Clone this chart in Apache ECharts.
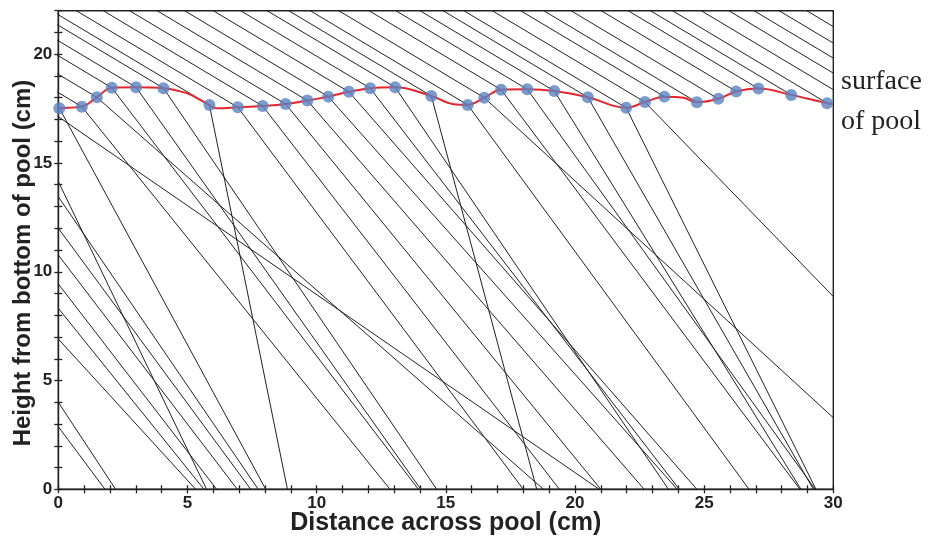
<!DOCTYPE html>
<html><head><meta charset="utf-8">
<script src="https://cdn.jsdelivr.net/npm/echarts@6/dist/echarts.min.js"></script>
<style>html,body{margin:0;padding:0;background:#fff}#c{width:930px;height:540px}</style>
</head><body><div id="c"></div>
<script>
// Surface sample points (blue dots)
const surfaceX = [0.04,0.91,1.49,2.07,3.01,4.07,5.85,6.95,7.91,8.80,9.64,10.45,11.25,12.07,13.04,14.44,15.85,16.49,17.14,18.15,19.20,20.50,21.98,22.71,23.46,24.72,25.55,26.24,27.10,28.37,29.76];
const surfaceY = [17.52,17.59,18.02,18.46,18.48,18.44,17.66,17.56,17.62,17.71,17.87,18.05,18.27,18.44,18.48,18.08,17.67,18.00,18.37,18.39,18.31,18.02,17.54,17.80,18.05,17.79,17.95,18.29,18.42,18.13,17.75];
// Red surface curve
const curveX = [0,0.04,0.91,1.49,2.07,3.01,4.07,4.97,5.49,5.85,6.13,6.95,7.91,8.80,9.64,10.45,11.25,12.07,13.04,14.44,15.3,15.85,16.49,17.14,18.15,19.20,20.50,21.98,22.71,23.46,24.2,24.72,25.55,26.24,27.10,28.37,29.76,30];
const curveY = [17.5,17.52,17.59,18.02,18.46,18.48,18.44,18.21,17.9,17.66,17.52,17.56,17.62,17.71,17.87,18.05,18.27,18.44,18.48,18.08,17.7,17.67,18.00,18.37,18.39,18.31,18.02,17.54,17.80,18.05,18.0,17.79,17.95,18.29,18.42,18.13,17.75,17.72];
// Incoming rays: common slope (cm of height lost per cm across)
const incidentSlope = 0.71;
// Incoming rays that reach the right edge above the surface: height at x = 30
const extraIncidentY = [18.37,19.13,19.82,20.51,21.27,21.98];
// Refracted rays from dots 1..24: end point
const refractEndX = [8.03,12.84,18.78,13.94,14.03,14.65,8.87,18.0,19.40,21.0,22.68,23.96,24.72,24.04,23.62,18.52,26.74,30,28.71,29.30,28.75,29.23,29.33,30];
const refractEndY = [0,0,0,0,0,0,0,0,0,0,0,0,0,0,0,0,0,3.29,0,0,0,0,0,8.86];
// Refracted rays entering from the left edge: height at x = 0 and bottom x
const leftEntryY = [17.13,14.15,13.45,12.0,10.77,9.44,8.32,6.91,4.0,2.88];
const leftBottomX = [20.94,5.74,7.74,7.45,6.93,6.13,5.64,5.32,2.22,1.81];

const INK = '#222';
const series = [];
function seg(a, b) {
  series.push({type:'line', data:[a,b], symbol:'none', silent:true, animation:false,
    lineStyle:{color:INK, width:1}, clip:true, z:2});
}
surfaceX.forEach((x,i)=>{
  const L = 40;
  seg([x - L, surfaceY[i] + L*incidentSlope], [x, surfaceY[i]]);
});
extraIncidentY.forEach(y=>{
  const L = 40;
  seg([30 - L, y + L*incidentSlope], [31, y - incidentSlope]);
});
refractEndX.forEach((x,i)=>{
  seg([surfaceX[i], surfaceY[i]], [x, refractEndY[i]]);
});
leftEntryY.forEach((y,i)=>{
  seg([0, y], [leftBottomX[i], 0]);
});
series.push({type:'line', data: curveX.map((x,i)=>[x,curveY[i]]), smooth:0.4, symbol:'none',
  lineStyle:{color:'#e8242c', width:2}, z:5, silent:true, animation:false, clip:true});
series.push({type:'scatter', data: surfaceX.map((x,i)=>[x,surfaceY[i]]), symbolSize:12,
  itemStyle:{color:'#5b82c0'}, z:6, silent:true, animation:false});

const FONT = 'Liberation Sans, Arial, sans-serif';
const axLine = {lineStyle:{color:INK, width:1.4}};
function xa(inside){
  return {type:'value', min:0, max:30, interval:1, position:'bottom',
    axisLine: inside ? {show:false} : axLine,
    axisTick:{show:true, inside:inside, length:4, lineStyle:{color:INK, width:1.3}},
    axisLabel: inside ? {show:false} : {interval:0, margin:6, color:INK, fontFamily:FONT, fontWeight:'bold', fontSize:17,
      formatter: v => (v % 5 === 0 ? String(v) : '')},
    splitLine:{show:false}};
}
function ya(inside){
  return {type:'value', min:0, max:22, interval:1, position:'left',
    axisLine: inside ? {show:false} : axLine,
    axisTick:{show:true, inside:inside, length:4, lineStyle:{color:INK, width:1.3}},
    axisLabel: inside ? {show:false} : {interval:0, margin:6, color:INK, fontFamily:FONT, fontWeight:'bold', fontSize:17,
      formatter: v => (v % 5 === 0 ? String(v) : '')},
    splitLine:{show:false}};
}
const chart = echarts.init(document.getElementById('c'), null, {renderer:'canvas'});
chart.setOption({
  animation:false,
  grid:{left:58.3, right:96.7, top:10.7, bottom:50.7, show:true, borderColor:INK, borderWidth:1.4, backgroundColor:'transparent'},
  xAxis:[xa(false), xa(true)],
  yAxis:[ya(false), ya(true)],
  series: series,
  graphic:[
    {type:'text', x:445.8, y:523, style:{text:'Distance across pool (cm)', font:'bold 25px '+FONT, fill:INK, align:'center', verticalAlign:'middle'}},
    {type:'text', x:23, y:263, rotation:Math.PI/2, style:{text:'Height from bottom of pool (cm)', font:'bold 24px '+FONT, fill:INK, align:'center', verticalAlign:'middle'}},
    {type:'text', x:841, y:82, style:{text:'surface', font:'28px Liberation Serif, Times New Roman, serif', fill:INK, align:'left', verticalAlign:'middle'}},
    {type:'text', x:841, y:122, style:{text:'of pool', font:'28px Liberation Serif, Times New Roman, serif', fill:INK, align:'left', verticalAlign:'middle'}}
  ]
});
</script></body></html>
